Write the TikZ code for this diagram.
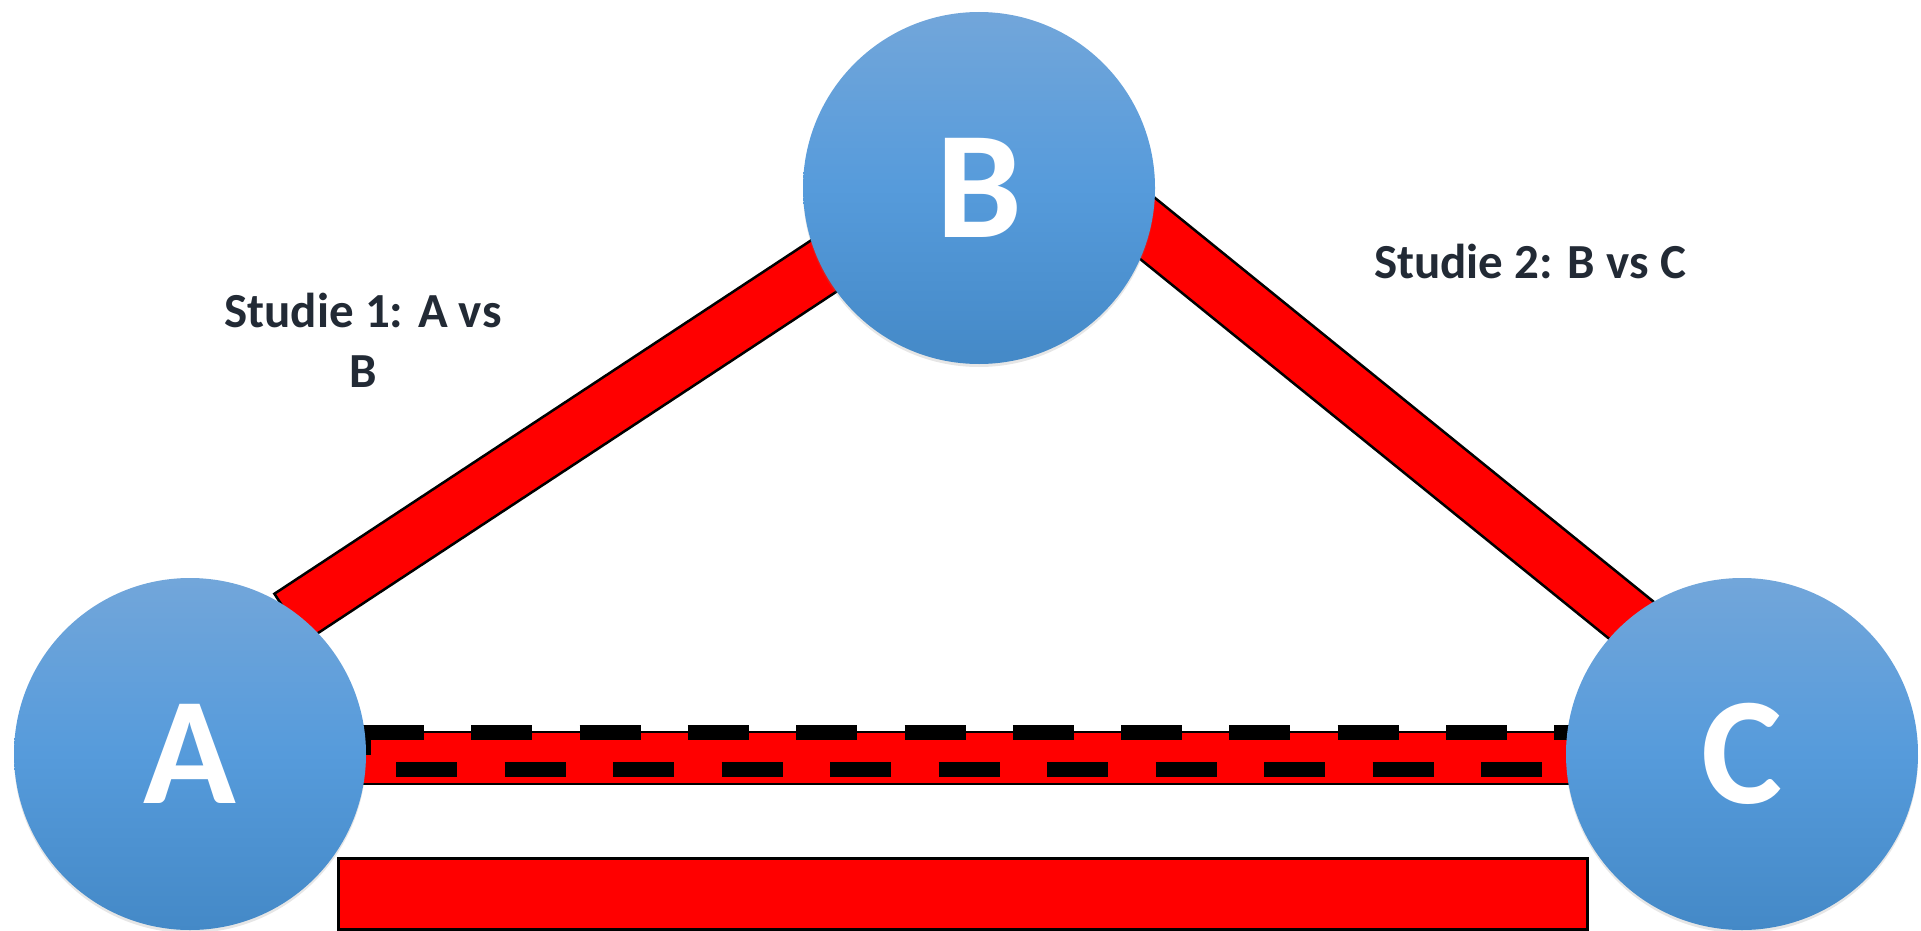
\documentclass[tikz,border=0pt]{standalone}
\usepackage{fontspec}
\setmainfont{Carlito}
\usetikzlibrary{calc,shadows}
\definecolor{txtdark}{RGB}{34,42,53}
\definecolor{ctop}{RGB}{114,166,218}
\definecolor{cmid}{RGB}{86,155,219}
\definecolor{cbot}{RGB}{68,137,199}
\tikzset{
  bubble/.style={circle, minimum size=352pt, inner sep=0pt, draw=none,
    top color=ctop, bottom color=cbot, middle color=cmid,
    drop shadow={opacity=0.2, shadow xshift=0pt, shadow yshift=-3pt},
    text=white, font=\fontsize{153}{153}\selectfont\bfseries},
  band/.style={fill=red, draw=black, line width=2.5pt, line join=miter},
  dashrow/.style={draw=black, line width=15pt, dash pattern=on 61pt off 47.3pt},
  studylabel/.style={text=txtdark, align=center, inner sep=0pt,
    font=\fontsize{49}{60}\selectfont\bfseries}
}
\begin{document}
\begin{tikzpicture}[x=1pt, y=-1pt]
\useasboundingbox (0,0) rectangle (1921,931);
% named end points of the connectors
\coordinate (ab1) at (290,617.5);
\coordinate (ab2) at (900,215.8);
\coordinate (bc1) at (1000,109);
\coordinate (bc2) at (1720,692);
\coordinate (ac1) at (300,732);
\coordinate (ac2) at (1650,784);
\coordinate (acd1) at (363,732.5);
\coordinate (acd2) at (1620,732.5);
\coordinate (acd3) at (287.5,769.5);
\coordinate (acd4) at (1620,769.5);
\coordinate (rect1) at (338,858);
\coordinate (rect2) at (1587,929);
% A -- B band
\filldraw[band] ($(ab1)!28.4pt!90:(ab2)$) -- ($(ab2)!28.4pt!-90:(ab1)$)
  -- ($(ab2)!28.4pt!90:(ab1)$) -- ($(ab1)!28.4pt!-90:(ab2)$) -- cycle;
% B -- C band
\filldraw[band] ($(bc1)!28.4pt!90:(bc2)$) -- ($(bc2)!28.4pt!-90:(bc1)$)
  -- ($(bc2)!28.4pt!90:(bc1)$) -- ($(bc1)!28.4pt!-90:(bc2)$) -- cycle;
% A -- C dashed band
\filldraw[band] (ac1) rectangle (ac2);
\draw[dashrow] (acd1) -- (acd2);
\draw[dashrow, dash pattern=on 61pt off 47.5pt] (acd3) -- (acd4);
\fill[black] (355,725) rectangle (371,755);
% plain bar
\filldraw[band, line width=3pt] (rect1) rectangle (rect2);
% nodes
\node[bubble] (A) at (190,754) {A};
\node[bubble] (B) at (979,188) {B};
\node[bubble] (C) at (1742,754) {C};
% labels
\node[studylabel, anchor=base] (l1) at (363,387) {Studie 1: A vs\\B};
\node[studylabel, anchor=base] (l2) at (1530,278) {Studie 2: B vs C};
\end{tikzpicture}
\end{document}
